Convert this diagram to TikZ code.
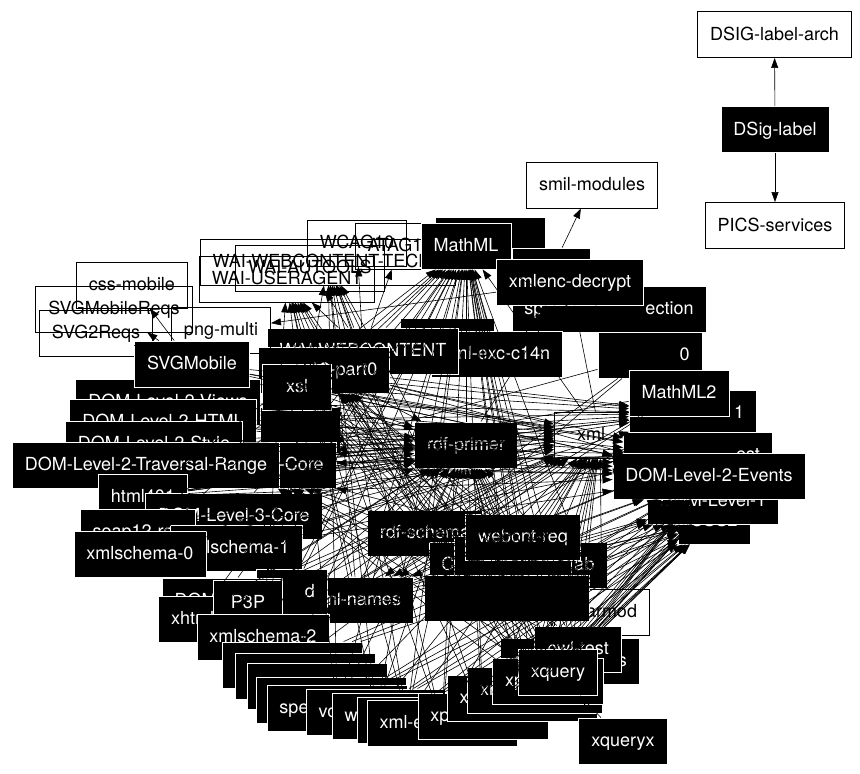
\documentclass[tikz,border=0pt]{standalone}
\usepackage{fontspec}
\setmainfont{TeX Gyre Heros}
\usetikzlibrary{arrows.meta}
\newcommand{\hs}[1]{\hspace*{#1pt}}
\begin{document}
\begin{tikzpicture}[x=1pt,y=-1pt,
 base/.style={rectangle, inner xsep=12.5pt, inner ysep=0pt, minimum height=46pt, minimum width=69pt, text height=14pt, text depth=3pt, font=\fontsize{18}{20}\selectfont, line width=0.9pt},
 blk/.style={base, fill=black, draw=white, text=white},
 wht/.style={base, draw=black, text=black},
 edge/.style={line width=0.6pt, -{Triangle[length=10pt,width=7pt]}}]
\useasboundingbox (0,0) rectangle (860,774);
\fill[white] (0,0) rectangle (860,774);
% top right
\node[wht] (dsigarch) at (774.5,34.5) {DSIG-label-arch};
\node[blk] (dsig) at (775,129.5) {DSig-label};
\node[wht] (pics) at (775,225.5) {PICS-services};
% WAI cluster
\node[wht] (waitechs) at (328,262) {WAI-WEBCONTENT-TECHS};
\node[wht] (waiau) at (310,268) {WAI-AUTOOLS};
\node[wht] (waiua) at (287,279) {WAI-USERAGENT};
\node[wht] (wcag) at (357,243) {WCAG10};
\node[wht] (atag) at (400,246) {ATAG10};
\node[blk, minimum width=110pt] (xmldsig) at (490,240) {};
\node[blk] (mathml) at (466,246) {MathML};
\node[blk, minimum width=78pt] (hbox2) at (551,271) {};
\node[wht] (smil) at (592,185) {smil-modules};
\node[blk] (ection) at (609,309) {sp\hs{102}ection};
\node[blk] (decrypt) at (570,282) {xmlenc-decrypt};
\node[blk] (zero) at (650,355) {\hs{69}0};
\node[blk, minimum width=94pt] (strip) at (447,341) {};
\node[blk] (exc) at (497,354) {xml-exc-c14n};
\node[blk] (waiwc) at (363,351) {WAI-WEBCONTENT};
\node[blk] (soap0) at (324,370) {soap12-part0};
\node[blk, minimum width=80pt] (midbox) at (300,430) {};
\node[blk] (xsl) at (297,387) {xsl};
% left cluster
\node[wht] (cssm) at (132,285) {css-mobile};
\node[wht] (svgmreqs) at (114,309) {SVGMobileReqs};
\node[wht] (svg2reqs) at (96,333) {SVG2Reqs};
\node[wht] (png) at (221,330) {png-multi};
\node[blk] (views) at (168,402) {DOM-Level-2-Views};
\node[blk] (svgm) at (192,364) {SVGMobile};
\node[blk] (html) at (163,422) {DOM-Level-2-HTML};
\node[blk] (style) at (154,444) {DOM-Level-2-Style};
\node[blk] (core2) at (248,465) {DOM-Level-2-Core};
\node[blk] (trav) at (146,465) {DOM-Level-2-Traversal-Range};
\node[blk] (html401) at (143,497) {html401};
\node[blk] (dom3core) at (234,516) {DOM-Level-3-Core};
\node[blk] (soaprep) at (138,532) {soap12-rep};
\node[blk] (xs1) at (236,548) {xmlschema-1};
\node[blk] (xs0) at (140,554) {xmlschema-0};
% bottom left
\node[blk] (xmlnames) at (357,600) {xml-names};
\node[blk] (dbox) at (292,592) {\hs{36}d};
\node[blk] (domX) at (222,601) {DOM\hs{53}};
\node[blk] (xhtml) at (197,619) {xhtml\hs{9}};
\node[blk] (p3p) at (248,603) {P3P};
\node[blk] (xs2) at (263,637) {xmlschema-2};
% centre
\node[blk] (rdfprimer) at (466,445) {rdf-primer};
\node[wht] (xmlinfo) at (600,435) {\hs{10}xml\hs{28}};
\node[blk] (rdfschema) at (425,533) {rdf-schema};
\node[blk] (ccpp) at (518,565) {C\hs{120}ab};
\node[blk, minimum width=117pt] (cov1) at (513,559) {};
\node[blk] (webont) at (523,537) {webont-req};
\node[wht] (charmod) at (602,612) {charmod};
\node[blk, minimum width=165pt] (jbox) at (507,598) {};
% bottom stack
\node[blk] (owlsem) at (570,661) {owl-semantics};
\node[blk] (owltest) at (578,649) {owl-test};
\node[blk] (b1) at (292,665) {s\hs{106}};
\node[blk, minimum width=140pt] (b2) at (305,676) {};
\node[blk, minimum width=140pt] (b3) at (317,686) {};
\node[blk, minimum width=150pt] (b4) at (331,700) {};
\node[blk] (spe) at (337,708) {spe\hs{86}};
\node[blk] (vo) at (376,712) {vo\hs{96}};
\node[blk] (w) at (407,716) {w\hs{112}};
\node[blk, minimum width=100pt] (b5) at (407,720) {};
\node[blk] (xmle) at (442,723) {xml-e\hs{81}};
\node[blk] (xpA) at (483,716) {xp\hs{86}};
\node[blk] (xB) at (522,698) {x\hs{116}};
\node[blk] (xr) at (535,690) {xr\hs{95}};
\node[blk] (xpC) at (548,681) {xp\hs{67}};
\node[blk] (xquery) at (558,672) {xquery};
\node[blk] (xqueryx) at (623,741) {xqueryx};
% right
\node[blk] (onebox) at (693,413) {\hs{92}1};
\node[blk] (mathml2) at (679,393) {MathML2};
\node[blk] (estbox) at (698,455) {\hs{100}est};
\node[blk] (css2) at (714,521) {CSS2};
\node[blk] (dom1) at (713,501) {DOM-Level-1};
\node[blk] (events) at (709,476) {DOM-Level-2-Events};
% edges
\draw[edge] (dsig) -- (dsigarch);
\draw[edge] (dsig) -- (pics);
\draw[edge] (hbox2) -- (smil);
\draw[edge] (decrypt) -- (png);
\foreach \t in {cssm,svgmreqs,svg2reqs} {\draw[edge] (svgm) -- (\t);}
\foreach \t in {waitechs,waiua,waiau,wcag,atag,mathml} {\draw[edge] (waiwc) -- (\t);}
\foreach \s in {xs0,soaprep,dom3core,html401,domX,xhtml,p3p,xs2,b1,spe,vo,w,xmle,xpA,xB,xr,xpC,xquery,owltest,owlsem,charmod,ccpp,jbox,xmlnames,webont,rdfschema,dbox}
 {\foreach \t in {rdfprimer,xmlinfo,mathml} {\draw[edge] (\s) -- (\t);}}
\foreach \s in {spe,vo,w,xmle,xpA,xB,xr,xpC,xquery,owltest,charmod,ccpp,jbox,xmlnames,xs2,b1}
 {\foreach \t in {events,css2,dom1} {\draw[edge] (\s) -- (\t);}}
\foreach \s in {trav,style,html,views,svgm,xsl,soap0,core2,html401,xs1}
 {\foreach \t in {xmlinfo,events,onebox,estbox,rdfprimer} {\draw[edge] (\s) -- (\t);}}
\foreach \s in {xs2,spe,vo,w,xmle,xpA,xr,xquery,rdfschema,xmlnames}
 {\foreach \t in {waitechs,waiua} {\draw[edge] (\s) -- (\t);}}
\foreach \s in {xquery,xr,xpC,owltest,charmod,ccpp,webont,jbox}
 {\foreach \t in {core2,xsl,soap0} {\draw[edge] (\s) -- (\t);}}
\foreach \s in {mathml2,zero,onebox,estbox}
 {\foreach \t in {xmlnames,xs2,core2} {\draw[edge] (\s) -- (\t);}}
\foreach \s in {exc,rdfprimer,xmlinfo,zero}
 {\foreach \t in {mathml,decrypt} {\draw[edge] (\s) -- (\t);}}
\draw[edge] (xqueryx) -- (xquery);
\end{tikzpicture}
\end{document}
